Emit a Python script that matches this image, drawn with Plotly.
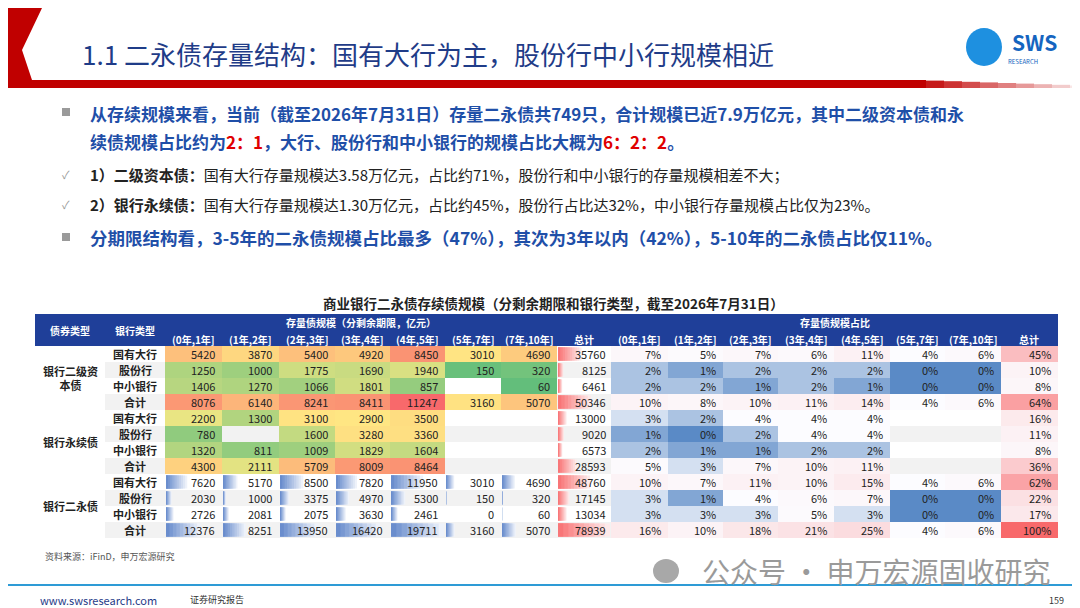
import numpy as np
import plotly.graph_objects as go

# ---- data ----
periods = ["(0年,1年]", "(1年,2年]", "(2年,3年]", "(3年,4年]", "(4年,5年]", "(5年,7年]", "(7年,10年]"]
banks = ["国有大行", "股份行", "中小银行", "合计"]
groups = ["银行二级资<br>本债", "银行永续债", "银行二永债"]

tier2 = [[5420, 3870, 5400, 4920, 8450, 3010, 4690],
         [1250, 1000, 1775, 1690, 1940, 150, 320],
         [1406, 1270, 1066, 1801, 857, None, 60],
         [8076, 6140, 8241, 8411, 11247, 3160, 5070]]
perp = [[2200, 1300, 3100, 2900, 3500, None, None],
        [780, None, 1600, 3280, 3360, None, None],
        [1320, 811, 1009, 1829, 1604, None, None],
        [4300, 2111, 5709, 8009, 8464, None, None]]
both = [[7620, 5170, 8500, 7820, 11950, 3010, 4690],
        [2030, 1000, 3375, 4970, 5300, 150, 320],
        [2726, 2081, 2075, 3630, 2461, 0, 60],
        [12376, 8251, 13950, 16420, 19711, 3160, 5070]]
row_totals = [35760, 8125, 6461, 50346, 13000, 9020, 6573, 28593, 48760, 17145, 13034, 78939]
shares = [[7, 5, 7, 6, 11, 4, 6, 45],
          [2, 1, 2, 2, 2, 0, 0, 10],
          [2, 2, 1, 2, 1, 0, 0, 8],
          [10, 8, 10, 11, 14, 4, 6, 64],
          [3, 2, 4, 4, 4, None, None, 16],
          [1, 0, 2, 4, 4, None, None, 11],
          [2, 1, 1, 2, 2, None, None, 8],
          [5, 3, 7, 10, 11, None, None, 36],
          [10, 7, 11, 10, 15, 4, 6, 62],
          [3, 1, 4, 6, 7, 0, 0, 22],
          [3, 3, 3, 5, 3, 0, 0, 17],
          [16, 10, 18, 21, 25, 4, 6, 100]]

# ---- layout constants (pixels) ----
FONT = "Noto Sans CJK SC"
BLUE = "#1F3F99"
left_edges = [27, 97, 157, 214, 271, 327, 382, 437, 493, 549, 603]
pct_edges = [603, 660, 715, 770, 826, 882, 937, 993, 1050]
row_top, row_h = 338, 16


def lerp(c1, c2, t):
    a = [int(c1[i:i + 2], 16) for i in (1, 3, 5)]
    b = [int(c2[i:i + 2], 16) for i in (1, 3, 5)]
    return "rgb(%d,%d,%d)" % tuple(round(a[k] + (b[k] - a[k]) * t) for k in range(3))


def three_color(v, lo, mid, hi, c_lo, c_mid, c_hi):
    if v <= mid:
        return lerp(c_lo, c_mid, (v - lo) / max(mid - lo, 1e-9))
    return lerp(c_mid, c_hi, (v - mid) / max(hi - mid, 1e-9))


fig = go.Figure()
shapes, ann = [], []


def rect(x0, y0, x1, y1, color, **kw):
    shapes.append(dict(type="rect", xref="x", yref="y", x0=x0, y0=y0, x1=x1, y1=y1,
                       fillcolor=color, line=dict(width=0), layer="below", **kw))


def text(x, y, s, size=11, color="#222", xanchor="center", bold=False, **kw):
    if bold:
        s = "<b>" + s + "</b>"
    ann.append(dict(x=x, y=y, xref="x", yref="y", text=s, showarrow=False, xanchor=xanchor,
                    yanchor="middle", font=dict(size=size, color=color, family=FONT), **kw))


def gradient_bar(x0, y0, w, h, c_dark, c_light, n=10):
    # lightest (full length) first, darker shorter pieces on top
    for k in range(n, 0, -1):
        rect(x0, y0, x0 + w * k / n, y0 + h, lerp(c_dark, c_light, k / n))


# ---- slide header ----
shapes.append(dict(type="path", xref="x", yref="y", path="M0,0 L34,0 L14,42 L24,72 L0,72 Z",
                    fillcolor="#C00000", line=dict(width=0)))
rect(0, 72, 900, 80, "#C00000")
for i in range(10):
    rect(900 + i * 18, 72 + i * 0.6, 918 + i * 18, 80, lerp("#C00000", "#FFFFFF", i / 10))
text(72, 45, "1.1 二永债存量结构：国有大行为主，股份行中小行规模相近", size=26, color="#1F3C88", xanchor="left")
shapes.append(dict(type="circle", xref="x", yref="y", x0=958, y0=20, x1=994, y1=58,
                    fillcolor="#1E90E0", line=dict(width=0)))
for k in range(5):
    rect(962, 26 + k * 6, 984, 29 + k * 6, "white")
text(1026, 34, "SWS", size=21, color="#1565C0", bold=True)
text(1015, 53, "RESEARCH", size=6, color="#1565C0")

# ---- bullets ----
bc = "#1F4FA8"
shapes.append(dict(type="rect", xref="x", yref="y", x0=54, y0=100, x1=62, y1=108, fillcolor="#9A9A9A", line=dict(width=0)))
shapes.append(dict(type="rect", xref="x", yref="y", x0=54, y0=225, x1=62, y1=233, fillcolor="#9A9A9A", line=dict(width=0)))
text(80, 105, "<b>从存续规模来看，当前（截至2026年7月31日）存量二永债共749只，合计规模已近7.9万亿元，其中二级资本债和永</b>",
     size=17, color=bc, xanchor="left")
text(80, 133, "<b>续债规模占比约为<span style='color:#E00000'>2：1</span>，大行、股份行和中小银行的规模占比大概为"
              "<span style='color:#E00000'>6：2：2</span>。</b>", size=17, color=bc, xanchor="left")
text(58, 166, "✓", size=11, color="#999")
text(58, 196, "✓", size=11, color="#999")
text(80, 166, "<b>1）二级资本债：</b>国有大行存量规模达3.58万亿元，占比约71%，股份行和中小银行的存量规模相差不大；",
     size=15, color="#222", xanchor="left")
text(80, 196, "<b>2）银行永续债：</b>国有大行存量规模达1.30万亿元，占比约45%，股份行占比达32%，中小银行存量规模占比仅为23%。",
     size=15, color="#222", xanchor="left")
text(80, 229, "<b>分期限结构看，3-5年的二永债规模占比最多（47%），其次为3年以内（42%），5-10年的二永债占比仅11%。</b>",
     size=17.5, color=bc, xanchor="left")

# ---- table title and header ----
text(545, 295, "<b>商业银行二永债存续债规模（分剩余期限和银行类型，截至2026年7月31日）</b>", size=13.5, color="#222")
rect(27, 306, 1050, 338, BLUE)
text(62, 322, "债券类型", size=10, color="white", bold=True)
text(127, 322, "银行类型", size=10, color="white", bold=True)
text((157 + 549) / 2, 314, "存量债规模（分剩余期限，亿元）", size=10, color="white", bold=True)
text((603 + 1050) / 2, 314, "存量债规模占比", size=10, color="white", bold=True)
for j, p in enumerate(periods):
    text((left_edges[j + 2] + left_edges[j + 3]) / 2, 331, p, size=10, color="white", bold=True)
    text((pct_edges[j] + pct_edges[j + 1]) / 2, 331, p, size=10, color="white", bold=True)
text(576, 331, "总计", size=10, color="white", bold=True)
text(1021, 331, "总计", size=10, color="white", bold=True)

# ---- row backgrounds and labels ----
for r in range(12):
    y0 = row_top + r * row_h
    if r % 2 == 1:
        rect(97, y0, 1050, y0 + row_h, "#F2F2F2")
    text(127, y0 + row_h / 2, banks[r % 4], size=11, color="#222", bold=True)
for g, name in enumerate(groups):
    text(62, row_top + g * 4 * row_h + 2 * row_h, name, size=11, color="#222", bold=True)

# ---- colour-scale block (二级资本债 + 永续债) ----
heat = [v for row in tier2 + perp for v in row if v is not None]
lo, mid, hi = min(heat), np.percentile(heat, 50), max(heat)
for r, row in enumerate(tier2 + perp):
    y0 = row_top + r * row_h
    for j, v in enumerate(row):
        if v is None:
            continue
        x0, x1 = left_edges[j + 2], left_edges[j + 3]
        rect(x0, y0, x1, y0 + row_h, three_color(v, lo, mid, hi, "#63BE7B", "#FFEB84", "#F8696B"))
        text(x1 - 5, y0 + row_h / 2, str(v), size=11, xanchor="right")

# ---- data bar block (二永债) ----
bmax = max(max(row) for row in both)
for r, row in enumerate(both):
    y0 = row_top + (r + 8) * row_h
    for j, v in enumerate(row):
        x0, x1 = left_edges[j + 2], left_edges[j + 3]
        gradient_bar(x0 + 1, y0 + 1.5, (x1 - x0 - 2) * v / bmax, row_h - 3, "#5B82C8", "#EEF2FA")
        text(x1 - 5, y0 + row_h / 2, str(v), size=11, xanchor="right")

# ---- totals with red bars ----
tmax = max(row_totals)
for r, v in enumerate(row_totals):
    y0 = row_top + r * row_h
    gradient_bar(550, y0 + 1.5, (603 - 549 - 2) * v / tmax, row_h - 3, "#F8696B", "#FDEAEA")
    text(600, y0 + row_h / 2, str(v), size=11, xanchor="right")

# ---- share block ----
pv = [v for row in shares for v in row if v is not None]
plo, pmid, phi = min(pv), np.percentile(pv, 50), max(pv)
for r, row in enumerate(shares):
    y0 = row_top + r * row_h
    for j, v in enumerate(row):
        if v is None:
            continue
        x0, x1 = pct_edges[j], pct_edges[j + 1]
        rect(x0, y0, x1, y0 + row_h, three_color(v, plo, pmid, phi, "#5A8AC6", "#FCFCFF", "#F8696B"))
        text(x1 - 5, y0 + row_h / 2, "%d%%" % v, size=11, xanchor="right")

# ---- footer ----
text(35, 548, "资料来源：iFinD，申万宏源研究", size=9, color="#555", xanchor="left")
text(1045, 563, "公众号 · 申万宏源固收研究", size=28, color="#9A9A9A", xanchor="right")
shapes.append(dict(type="circle", xref="x", yref="y", x0=645, y0=551, x1=671, y1=575,
                    fillcolor="#A8A8A8", line=dict(width=0)))
rect(0, 576, 1080, 578, "#2E9BD6")
text(30, 592, "www.swsresearch.com", size=11, color="#1F3C88", xanchor="left")
text(180, 591, "证券研究报告", size=9, color="#333", xanchor="left")
text(1058, 592, "159", size=9, color="#333", xanchor="right")

fig.update_layout(
    width=1080, height=608, margin=dict(l=0, r=0, t=0, b=0),
    paper_bgcolor="white", plot_bgcolor="white",
    xaxis=dict(range=[0, 1080], visible=False, fixedrange=True),
    yaxis=dict(range=[608, 0], visible=False, fixedrange=True),
    shapes=shapes, annotations=ann, showlegend=False,
)
fig.write_html("out.html")
